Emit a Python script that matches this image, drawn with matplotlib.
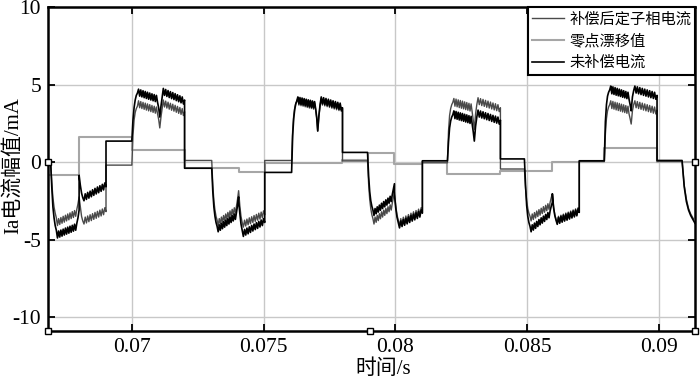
import numpy as np
import matplotlib
matplotlib.use("Agg")
import matplotlib.pyplot as plt

# time axis (s)
t_min, t_max = 0.06682, 0.09136

# sector boundaries of each current pulse
hump_start = [0.06692, 0.07000, 0.07303, 0.07606, 0.07894, 0.08197, 0.08489, 0.08792, 0.09087]
hump_cusp = [0.06800, 0.07106, 0.07405, 0.07705, 0.07996, 0.08299, 0.08595, 0.08894, None]
hump_end = [0.06902, 0.07200, 0.07504, 0.07799, 0.08102, 0.08398, 0.08697, 0.08992, 0.09136]

# flat levels: before pulse 1, then after each pulse (mA)
comp_flat = [0.0, -0.2, 0.1, 0.1, 0.07, -0.05, -0.45, 0.05, 0.05]
unc_flat = [0.0, 1.35, -0.4, -0.67, 0.62, 0.08, 0.2, 0.08, 0.1]

# compensated current, read per pulse half (mA)
comp_1a = [0, -1.3, -2.3, -2.9, -3.3, -3.6,
           -4.1, -3.65, -4.03, -3.58, -3.95, -3.5, -3.88, -3.43, -3.8, -3.35, -3.73, -3.28,
           -3.65, -3.2, -3.58, -3.13, -3.5, -3.05, -2.7, -2.25]
comp_1b = [-2.25, -2.9, -3.5, -3.8,
           -4.0, -3.55, -3.93, -3.48, -3.85, -3.4, -3.78, -3.33, -3.7, -3.25, -3.63, -3.18,
           -3.55, -3.1, -3.48, -3.03, -3.4, -2.95, -3.2]
comp_2a = [-0.2, 1.7, 2.7, 3.2, 3.45, 3.6,
           3.95, 3.5, 3.9, 3.45, 3.85, 3.4, 3.8, 3.35, 3.75, 3.3, 3.7, 3.25,
           3.65, 3.2, 3.6, 3.15, 3.55, 3.1, 2.75, 2.2]
comp_2b = [2.2, 2.9, 3.45,
           4.0, 3.55, 3.93, 3.48, 3.86, 3.41, 3.79, 3.34, 3.73, 3.28, 3.66, 3.21,
           3.59, 3.14, 3.52, 3.07, 3.45, 3.0, 3.25]
comp_3a = [0.1, -1.5, -2.5, -3.1, -3.5, -3.75,
           -4.1, -3.65, -4.0, -3.55, -3.9, -3.45, -3.8, -3.35, -3.7, -3.25, -3.6, -3.15,
           -3.5, -3.05, -3.4, -2.95, -3.3, -2.85, -2.4, -1.85]
comp_3b = [-1.85, -2.8, -3.5, -3.9,
           -4.2, -3.75, -4.13, -3.68, -4.05, -3.6, -3.98, -3.53, -3.9, -3.45, -3.83, -3.38,
           -3.75, -3.3, -3.68, -3.23, -3.6, -3.15, -3.4]
comp_4a = [0.1, 2.0, 3.0, 3.5, 3.8, 3.9,
           4.12, 3.67, 4.08, 3.63, 4.05, 3.6, 4.01, 3.56, 3.97, 3.52, 3.93, 3.48,
           3.9, 3.45, 3.86, 3.41, 3.82, 3.37, 2.85, 2.0]
comp_4b = [2.0, 2.95, 3.62,
           4.12, 3.67, 4.07, 3.62, 4.02, 3.57, 3.97, 3.52, 3.92, 3.47, 3.87, 3.42,
           3.82, 3.37, 3.77, 3.32, 3.72, 3.27, 3.42]
comp_5a = [0.07, -1.4, -2.4, -3.0, -3.4, -3.65,
           -4.0, -3.55, -3.89, -3.44, -3.78, -3.33, -3.66, -3.21, -3.55, -3.1, -3.44, -2.99,
           -3.33, -2.88, -3.21, -2.76, -3.1, -2.65, -2.3, -1.95]
comp_5b = [-1.95, -2.8, -3.4, -3.75,
           -4.1, -3.65, -4.01, -3.56, -3.93, -3.48, -3.84, -3.39, -3.75, -3.3, -3.66, -3.21,
           -3.58, -3.13, -3.49, -3.04, -3.4, -2.95, -3.2]
comp_6a = [-0.05, 2.0, 3.0, 3.45, 3.7, 3.85,
           4.1, 3.6, 4.06, 3.56, 4.01, 3.51, 3.97, 3.47, 3.93, 3.43, 3.88, 3.38,
           3.84, 3.34, 3.79, 3.29, 3.75, 3.25, 2.7, 2.1]
comp_6b = [2.1, 3.1, 3.7,
           4.15, 3.7, 4.09, 3.64, 4.04, 3.59, 3.98, 3.53, 3.93, 3.48, 3.87, 3.42,
           3.81, 3.36, 3.76, 3.31, 3.7, 3.25, 3.5]
comp_7a = [-0.45, -1.7, -2.5, -3.0, -3.3, -3.5,
           -3.8, -3.35, -3.71, -3.26, -3.61, -3.16, -3.52, -3.07, -3.43, -2.98, -3.33, -2.88,
           -3.24, -2.79, -3.14, -2.69, -3.05, -2.6, -2.3, -2.05]
comp_7b = [-2.05, -2.9, -3.4, -3.7,
           -3.95, -3.5, -3.88, -3.43, -3.81, -3.36, -3.74, -3.29, -3.68, -3.23, -3.61, -3.16,
           -3.54, -3.09, -3.47, -3.02, -3.4, -2.95, -3.2]
comp_8a = [0.05, 1.8, 2.8, 3.3, 3.55, 3.7,
           3.95, 3.45, 3.91, 3.41, 3.86, 3.36, 3.82, 3.32, 3.78, 3.28, 3.73, 3.23,
           3.69, 3.19, 3.64, 3.14, 3.6, 3.1, 2.8, 2.45]
comp_8b = [2.45, 3.3, 3.7,
           3.95, 3.5, 3.9, 3.45, 3.85, 3.4, 3.8, 3.35, 3.75, 3.3, 3.7, 3.25,
           3.65, 3.2, 3.6, 3.15, 3.55, 3.1, 3.35]
comp_9a = [0.05, -1.5, -2.4, -3.0, -3.35, -3.6, -3.8]

# uncompensated current (mA)
unc_1a = [0, -1.6, -2.9, -3.6, -4.1, -4.4,
          -4.9, -4.45, -4.84, -4.39, -4.78, -4.33, -4.71, -4.26, -4.65, -4.2, -4.59, -4.14,
          -4.53, -4.08, -4.46, -4.01, -4.4, -3.95, -3.6, -3.1]
unc_1b = [-0.85, -1.5, -2.0, -2.3,
          -2.5, -2.05, -2.41, -1.96, -2.33, -1.88, -2.24, -1.79, -2.15, -1.7, -2.06, -1.61,
          -1.98, -1.53, -1.89, -1.44, -1.8, -1.35, -1.6]
unc_2a = [1.35, 2.7, 3.5, 4.0, 4.3, 4.45,
          4.7, 4.25, 4.65, 4.2, 4.6, 4.15, 4.55, 4.1, 4.5, 4.05, 4.45, 4.0,
          4.4, 3.95, 4.35, 3.9, 4.3, 3.85, 3.5, 2.9]
unc_2b = [2.9, 3.6, 4.2,
          4.75, 4.3, 4.68, 4.23, 4.61, 4.16, 4.54, 4.09, 4.48, 4.03, 4.41, 3.96,
          4.34, 3.89, 4.27, 3.82, 4.2, 3.75, 4.0]
unc_3a = [-0.4, -1.9, -2.9, -3.5, -3.9, -4.15,
          -4.5, -4.05, -4.4, -3.95, -4.3, -3.85, -4.2, -3.75, -4.1, -3.65, -4.0, -3.55,
          -3.9, -3.45, -3.8, -3.35, -3.7, -3.25, -2.8, -2.25]
unc_3b = [-2.5, -3.3, -4.0, -4.4,
          -4.8, -4.35, -4.71, -4.26, -4.63, -4.18, -4.54, -4.09, -4.45, -4.0, -4.36, -3.91,
          -4.28, -3.83, -4.19, -3.74, -4.1, -3.65, -3.9]
unc_4a = [-0.67, 1.7, 2.8, 3.4, 3.75, 3.95,
          4.2, 3.75, 4.16, 3.71, 4.13, 3.68, 4.09, 3.64, 4.05, 3.6, 4.01, 3.56,
          3.98, 3.53, 3.94, 3.49, 3.9, 3.45, 2.9, 2.0]
unc_4b = [2.0, 3.0, 3.7,
          4.2, 3.75, 4.15, 3.7, 4.1, 3.65, 4.05, 3.6, 4.0, 3.55, 3.95, 3.5,
          3.9, 3.45, 3.85, 3.4, 3.8, 3.35, 3.5]
unc_5a = [0.62, -0.9, -1.9, -2.5, -2.85, -3.1,
          -3.45, -3.0, -3.34, -2.89, -3.23, -2.78, -3.11, -2.66, -3.0, -2.55, -2.89, -2.44,
          -2.78, -2.33, -2.66, -2.21, -2.55, -2.1, -1.75, -1.4]
unc_5b = [-2.08, -2.95, -3.55, -3.9,
          -4.25, -3.8, -4.16, -3.71, -4.08, -3.63, -3.99, -3.54, -3.9, -3.45, -3.81, -3.36,
          -3.73, -3.28, -3.64, -3.19, -3.55, -3.1, -3.3]
unc_6a = [0.08, 1.3, 2.2, 2.65, 2.9, 3.05,
          3.3, 2.8, 3.26, 2.76, 3.21, 2.71, 3.17, 2.67, 3.13, 2.63, 3.08, 2.58,
          3.04, 2.54, 2.99, 2.49, 2.95, 2.45, 1.95, 1.35]
unc_6b = [1.35, 2.3, 2.9,
          3.35, 2.9, 3.29, 2.84, 3.24, 2.79, 3.18, 2.73, 3.13, 2.68, 3.07, 2.62,
          3.01, 2.56, 2.96, 2.51, 2.9, 2.45, 2.7]
unc_7a = [0.2, -1.5, -2.8, -3.5, -3.9, -4.15,
          -4.5, -4.05, -4.39, -3.94, -4.28, -3.83, -4.16, -3.71, -4.05, -3.6, -3.94, -3.49,
          -3.83, -3.38, -3.71, -3.26, -3.6, -3.15, -2.85, -2.6]
unc_7b = [-2.05, -2.95, -3.45, -3.75,
          -4.02, -3.57, -3.95, -3.5, -3.88, -3.43, -3.81, -3.36, -3.75, -3.3, -3.68, -3.23,
          -3.61, -3.16, -3.54, -3.09, -3.47, -3.02, -3.25]
unc_8a = [0.08, 2.6, 3.7, 4.25, 4.5, 4.65,
          4.9, 4.4, 4.85, 4.36, 4.8, 4.31, 4.75, 4.27, 4.7, 4.23, 4.65, 4.18,
          4.6, 4.14, 4.55, 4.09, 4.5, 4.05, 3.7, 3.3]
unc_8b = [3.3, 4.2, 4.6,
          4.9, 4.45, 4.85, 4.4, 4.8, 4.35, 4.75, 4.3, 4.7, 4.25, 4.65, 4.2,
          4.6, 4.15, 4.55, 4.1, 4.5, 4.05, 4.3]
unc_9a = [0.1, -1.6, -2.55, -3.1, -3.45, -3.7, -3.95]

# zero drift estimate (step, mA)
drift_t = [0.06682, 0.06800, 0.07000, 0.07200, 0.07405, 0.07504, 0.07799, 0.07894, 0.07996,
           0.08102, 0.08197, 0.08398, 0.08595, 0.08792, 0.08992, 0.09136]
drift_v = [-0.84, 1.6, 0.77, -0.4, -0.65, -0.05, 0.1, 0.55, -0.13,
           0.0, -0.8, -0.55, 0.0, 0.9, 0.0, 0.0]

# small square markers on the frame
mark_t = [0.06682, 0.06682, 0.07905, 0.09136, 0.09136]
mark_y = [0.0, -10.9, -10.9, -10.9, 0.0]

x_ticks = [0.07, 0.075, 0.08, 0.085, 0.09]
x_tick_labels = ["0.07", "0.075", "0.08", "0.085", "0.09"]
y_ticks = [-10, -5, 0, 5, 10]
y_tick_labels = ["-10", "-5", "0", "5", "10"]

labels = ["补偿后定子相电流", "零点漂移值", "未补偿电流"]

comp_parts = [(comp_1a, comp_1b), (comp_2a, comp_2b), (comp_3a, comp_3b), (comp_4a, comp_4b),
              (comp_5a, comp_5b), (comp_6a, comp_6b), (comp_7a, comp_7b), (comp_8a, comp_8b),
              (comp_9a, None)]
unc_parts = [(unc_1a, unc_1b), (unc_2a, unc_2b), (unc_3a, unc_3b), (unc_4a, unc_4b),
             (unc_5a, unc_5b), (unc_6a, unc_6b), (unc_7a, unc_7b), (unc_8a, unc_8b),
             (unc_9a, None)]


def build(parts, flat):
    t = [t_min]
    y = [flat[0]]
    for i, (a, b) in enumerate(parts):
        if i > 0:
            t += [hump_end[i - 1], hump_start[i]]
            y += [flat[i], flat[i]]
        if b is None:
            t += list(np.linspace(hump_start[i], hump_end[i], len(a)))
            y += a
        else:
            t += list(np.linspace(hump_start[i], hump_cusp[i], len(a)))
            y += a
            t += list(np.linspace(hump_cusp[i], hump_end[i], len(b)))
            y += b
    return np.array(t), np.array(y)


plt.rcParams["font.family"] = ["Liberation Serif", "Noto Sans CJK SC"]

fig = plt.figure(figsize=(7, 3.87), dpi=100)
ax = fig.add_axes([48 / 700, 56 / 387, 647 / 700, 324 / 387])

t_c, y_c = build(comp_parts, comp_flat)
t_u, y_u = build(unc_parts, unc_flat)

ax.plot(t_c, y_c, color="#4a4a4a", lw=1.0, label=labels[0], zorder=3)
ax.step(drift_t, drift_v, where="post", color="#a6a6a6", lw=1.5, label=labels[1], zorder=2)
ax.plot(t_u, y_u, color="black", lw=1.2, label=labels[2], zorder=4)

ax.plot(mark_t, mark_y, "s", mfc="white", mec="black", ms=4.5, mew=1.0,
        clip_on=False, zorder=6)

ax.set_xlim(t_min, t_max)
ax.set_ylim(-10.9, 10)
ax.set_xticks(x_ticks)
ax.set_xticklabels(x_tick_labels)
ax.set_yticks(y_ticks)
ax.set_yticklabels(y_tick_labels)
ax.grid(True, color="#c8c8c8", lw=1.0)
ax.tick_params(direction="in", length=5, width=1.3, top=True, right=True,
               labelsize=15.5, pad=5)
for s in ax.spines.values():
    s.set_linewidth(1.8)

ax.set_xlabel("时间/s", fontsize=15)
ax.xaxis.set_label_coords(0.518, -0.088)
ax.set_ylabel("Ia电流幅值/mA", fontsize=15)
ax.yaxis.set_label_coords(-0.037, 0.51)

leg = ax.legend(loc="upper right", borderaxespad=0, fancybox=False,
                edgecolor="black", framealpha=1, handlelength=2.1, handletextpad=0.35,
                labelspacing=0.3, borderpad=0.25,
                prop={"family": ["Noto Sans CJK SC"], "size": 11})
leg.get_frame().set_linewidth(1.5)

fig.savefig("out.png", dpi=100)
